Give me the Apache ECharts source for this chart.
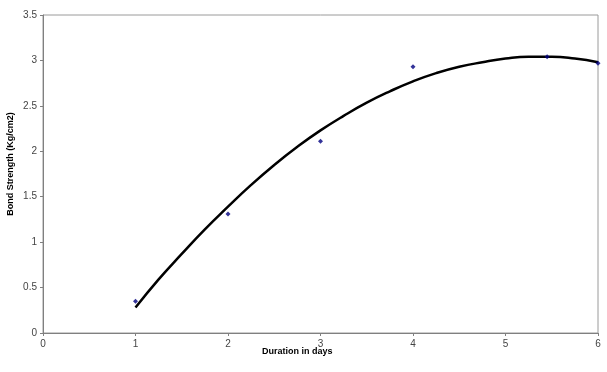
<!DOCTYPE html>
<html>
<head>
<meta charset="utf-8">
<script src="https://cdn.jsdelivr.net/npm/echarts@6/dist/echarts.min.js"></script>
<style>
html,body{margin:0;padding:0;background:#fff;}
#c{width:607px;height:372px;}
</style>
</head>
<body>
<div id="c"></div>
<script>
// Observed data points (days, bond strength)
const obsDays = [1, 2, 3, 4, 5.45, 6];
const obsStrength = [0.35, 1.31, 2.11, 2.93, 3.04, 2.97];
// Trend curve
const trendDays = [1, 1.25, 1.5, 1.75, 2, 2.25, 2.5, 2.75, 3, 3.25, 3.5, 3.75, 4, 4.25, 4.5, 4.75, 5, 5.25, 5.5, 5.75, 6];
const trendStrength = [0.28, 0.59, 0.87, 1.14, 1.39, 1.63, 1.85, 2.05, 2.23, 2.39, 2.535, 2.66, 2.77, 2.86, 2.93, 2.98, 3.02, 3.04, 3.04, 3.02, 2.98];
const xTicks = [0, 1, 2, 3, 4, 5, 6];
const yTicks = [0, 0.5, 1, 1.5, 2, 2.5, 3, 3.5];

const chart = echarts.init(document.getElementById('c'), null, {renderer: 'canvas'});
const font = 'Liberation Sans, Arial, sans-serif';
chart.setOption({
  animation: false,
  backgroundColor: '#fff',
  grid: {left: 43, right: 9, top: 15, bottom: 39, show: true, borderColor: '#9a9a9a', borderWidth: 1},
  xAxis: {
    type: 'value', min: xTicks[0], max: xTicks[xTicks.length - 1], interval: 1,
    axisLine: {lineStyle: {color: '#808080'}},
    axisTick: {show: true, length: 3, lineStyle: {color: '#808080'}},
    axisLabel: {color: '#444', fontFamily: font, fontSize: 10, margin: 6},
    splitLine: {show: false}
  },
  yAxis: {
    type: 'value', min: yTicks[0], max: yTicks[yTicks.length - 1], interval: 0.5,
    axisLine: {show: true, lineStyle: {color: '#808080'}},
    axisTick: {show: true, length: 3, lineStyle: {color: '#808080'}},
    axisLabel: {color: '#444', fontFamily: font, fontSize: 10, margin: 6},
    splitLine: {show: false}
  },
  graphic: [
    {type: 'text', left: 262, top: 347, style: {text: 'Duration in days', font: 'bold 9px ' + font, fill: '#000'}},
    {type: 'text', x: 11, y: 164, rotation: Math.PI / 2, style: {text: 'Bond Strength (Kg/cm2)', font: 'bold 9px ' + font, fill: '#000', align: 'center', verticalAlign: 'middle'}}
  ],
  series: [
    {
      type: 'line', smooth: true, showSymbol: false,
      data: trendDays.map((d, i) => [d, trendStrength[i]]),
      lineStyle: {color: '#000', width: 2.5}, z: 2
    },
    {
      type: 'scatter', symbol: 'diamond', symbolSize: 5,
      data: obsDays.map((d, i) => [d, obsStrength[i]]),
      itemStyle: {color: '#000080'}, z: 3
    }
  ]
});
</script>
</body>
</html>
